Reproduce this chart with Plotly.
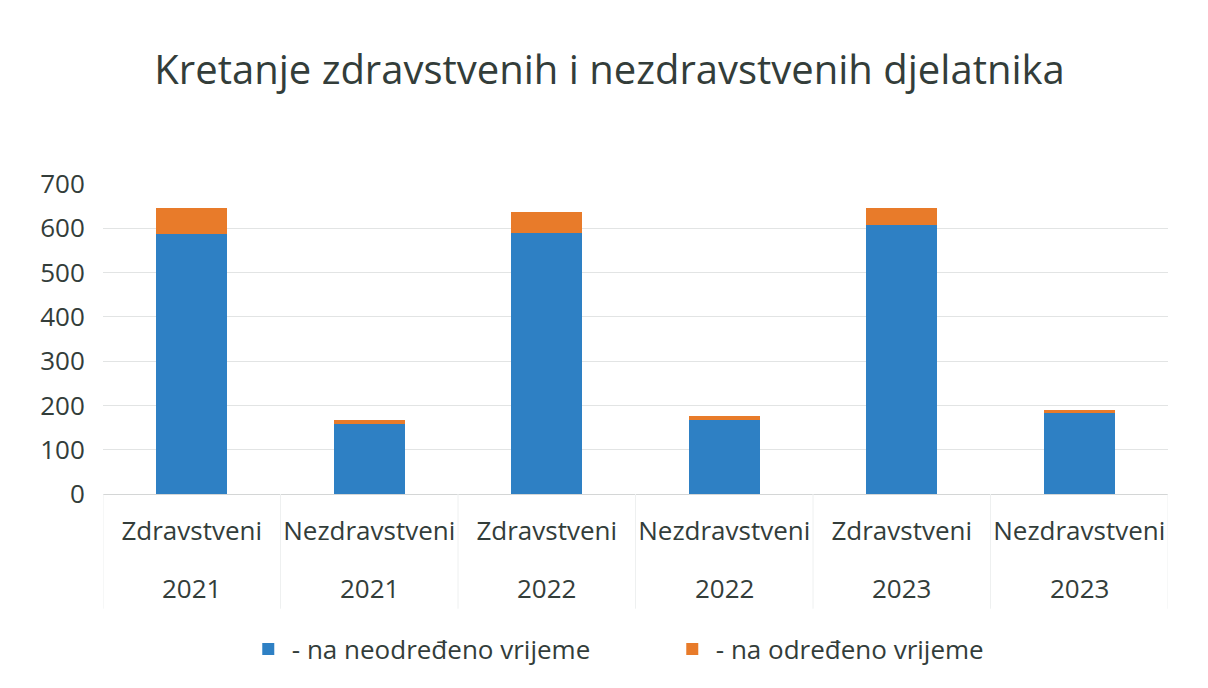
import plotly.graph_objects as go

groups = ["Zdravstveni", "Nezdravstveni", "Zdravstveni", "Nezdravstveni", "Zdravstveni", "Nezdravstveni"]
years = ["2021", "2021", "2022", "2022", "2023", "2023"]
neodredeno = [586, 159, 589, 167, 608, 182]
odredeno = [60, 9, 48, 9, 38, 8]

cats = [f"{g}_{y}" for g, y in zip(groups, years)]

FONT = "Open Sans"
TXT = "#333d3a"

fig = go.Figure()
fig.add_trace(go.Bar(x=cats, y=neodredeno, name="- na neodređeno vrijeme",
                     marker=dict(color="#2e80c4", line=dict(width=0))))
fig.add_trace(go.Bar(x=cats, y=odredeno, name="- na određeno vrijeme",
                     marker=dict(color="#e87b2a", line=dict(width=0))))

# faint category separators below the axis
for i in range(len(cats) + 1):
    fig.add_shape(type="line", xref="x", yref="paper", x0=i - 0.5, x1=i - 0.5,
                  y0=0, y1=-0.37, line=dict(color="#eef0f0", width=1))

# second label row (years)
for c, y in zip(cats, years):
    fig.add_annotation(x=c, xref="x", y=-0.303, yref="paper", yanchor="middle",
                       text=y, showarrow=False, font=dict(size=26, color=TXT))

fig.update_layout(
    barmode="stack",
    bargap=0.6,
    width=1208, height=688,
    margin=dict(l=95, r=48, t=176, b=202, autoexpand=False),
    paper_bgcolor="white", plot_bgcolor="white",
    font=dict(family=FONT, color=TXT, size=22),
    title=dict(text="Kretanje zdravstvenih i nezdravstvenih djelatnika",
               x=0.498, xanchor="center", y=0.91, yanchor="middle",
               font=dict(family=FONT, size=40, color=TXT)),
    legend=dict(orientation="h", xref="container", x=0.196, xanchor="left",
                yref="container", y=0.068, yanchor="middle",
                font=dict(size=26, color=TXT), itemwidth=37, entrywidth=372,
                traceorder="normal"),
    showlegend=True,
)
fig.update_xaxes(type="category", tickmode="array", tickvals=cats, ticktext=groups,
                 showgrid=False, showline=False, ticks="outside", ticklen=14,
                 tickcolor="rgba(0,0,0,0)", tickfont=dict(size=26, color=TXT),
                 range=[-0.5, 5.5], automargin=False)
fig.update_yaxes(range=[0, 700], dtick=100, showgrid=True, gridcolor="#e2e4e4",
                 gridwidth=1, zeroline=True, zerolinecolor="#d4d6d6", zerolinewidth=1,
                 ticks="outside", ticklen=12, tickcolor="rgba(0,0,0,0)",
                 tickfont=dict(size=26, color=TXT), automargin=False)

fig.write_html("out.html")
